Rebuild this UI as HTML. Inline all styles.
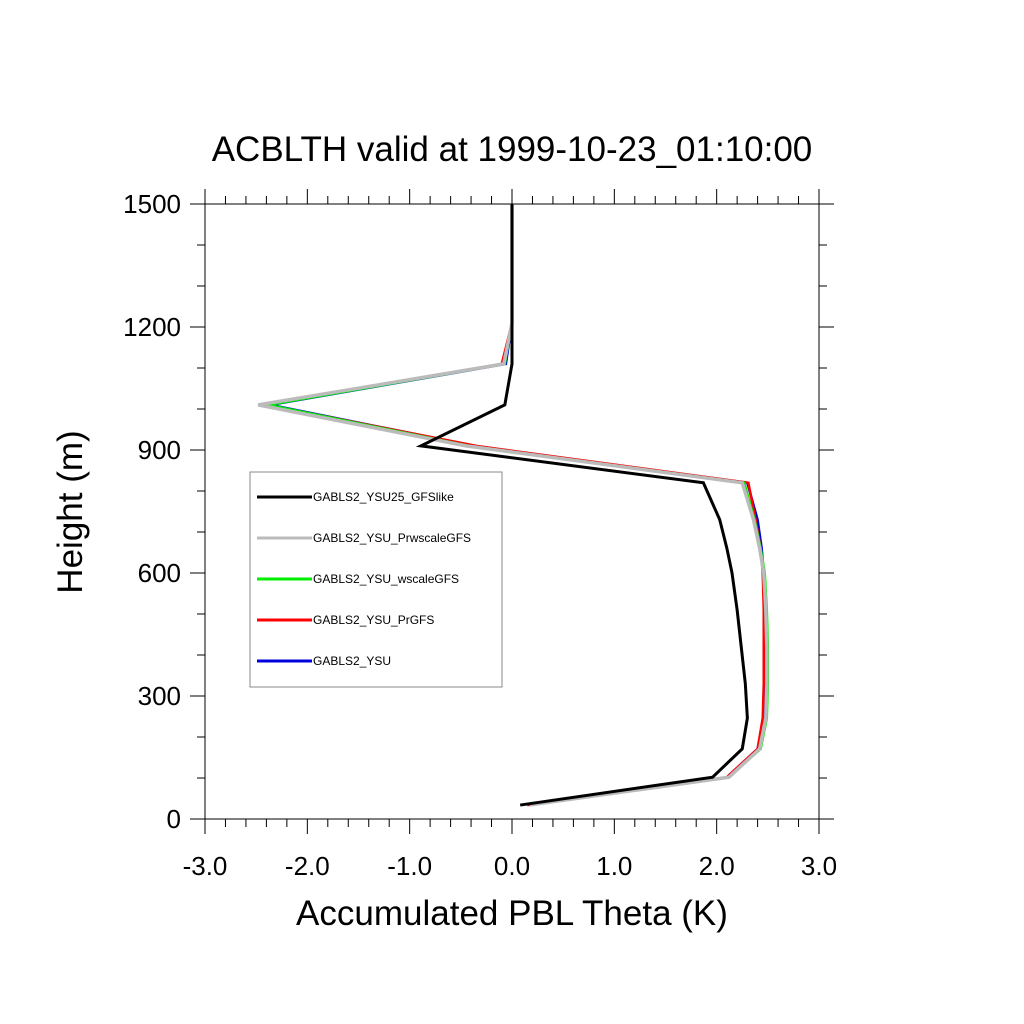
<!DOCTYPE html>
<html><head><meta charset="utf-8"><style>body{margin:0;background:#fff}svg{display:block}text{font-family:"Liberation Sans",sans-serif}</style></head>
<body>
<svg id="chart" width="1024" height="1024" xmlns="http://www.w3.org/2000/svg">
<rect width="1024" height="1024" fill="#fff"/>
<text x="512" y="161" font-size="35" text-anchor="middle">ACBLTH valid at 1999-10-23_01:10:00</text>
<text x="512" y="925" font-size="35" text-anchor="middle">Accumulated PBL Theta (K)</text>
<text transform="translate(82,512) rotate(-90)" font-size="35" text-anchor="middle">Height (m)</text>
<g id="axes"></g>
<g id="series"></g>
<g id="legend"></g>
</svg>
<script>
const heights=[34,102,171,246,330,420,510,600,660,730,820,910,1010,1110,1210,1500];
const blackVals=[0.08,1.96,2.25,2.30,2.28,2.24,2.20,2.15,2.10,2.03,1.87,-0.89,-0.07,0.0,0.0,0.0];
const grayVals=[0.17,2.12,2.42,2.48,2.49,2.49,2.48,2.46,2.42,2.36,2.25,-0.45,-2.48,-0.08,0.0,0.0];
const greenVals=[0.17,2.12,2.43,2.49,2.50,2.50,2.49,2.47,2.43,2.37,2.27,-0.42,-2.38,-0.07,0.0,0.0];
const redVals=[0.15,2.10,2.40,2.45,2.46,2.46,2.46,2.45,2.43,2.38,2.31,-0.35,-2.40,-0.10,0.0,0.0];
const blueVals=[0.15,2.10,2.40,2.46,2.47,2.47,2.47,2.46,2.44,2.40,2.30,-0.37,-2.36,-0.06,0.0,0.0];
const xTicks=[-3,-2,-1,0,1,2,3];
const xTickLabels=["-3.0","-2.0","-1.0","0.0","1.0","2.0","3.0"];
const yTicks=[0,300,600,900,1200,1500];
const seriesNames=["GABLS2_YSU25_GFSlike","GABLS2_YSU_PrwscaleGFS","GABLS2_YSU_wscaleGFS","GABLS2_YSU_PrGFS","GABLS2_YSU"];
const NS="http://www.w3.org/2000/svg";
const L=205,R=819,T=204,B=819;
const xs=v=>L+(v+3)/6*(R-L);
const ys=v=>B-v/1500*(B-T);
function mk(tag,attrs,parent){const e=document.createElementNS(NS,tag);for(const k in attrs)e.setAttribute(k,attrs[k]);parent.appendChild(e);return e;}
const ax=document.getElementById('axes');
const frame=mk('rect',{x:L,y:T,width:R-L,height:B-T,fill:'none',stroke:'#000','stroke-width':1},ax);


for(let i=-30;i<=30;i+=2){const v=i/10;const maj=i%10===0;const len=maj?15:8;const x=xs(v);
 const t1=mk('line',{x1:x,y1:B,x2:x,y2:B+len,stroke:'#000'},ax);
 
 
 const t2=mk('line',{x1:x,y1:T,x2:x,y2:T-len,stroke:'#000'},ax);
 
 }
for(let v=0;v<=1500;v+=100){const maj=v%300===0;const len=maj?15:8;const y=ys(v);
 const t1=mk('line',{x1:L,y1:y,x2:L-len,y2:y,stroke:'#000'},ax);
 
 
 const t2=mk('line',{x1:R,y1:y,x2:R+len,y2:y,stroke:'#000'},ax);
 
 }
xTicks.forEach((v,i)=>{const t=mk('text',{x:xs(v),y:875,'font-size':26,'text-anchor':'middle'},ax);t.textContent=xTickLabels[i];
 
 });
yTicks.forEach(v=>{const t=mk('text',{x:181,y:ys(v)+9,'font-size':26,'text-anchor':'end'},ax);t.textContent=String(v);
 
 });
const sg=document.getElementById('series');
const order=[[blueVals,'#0000dd',2.5,'series-ysu'],[redVals,'#ff0000',2.5,'series-prgfs'],[greenVals,'#00ee00',2.5,'series-wscalegfs'],[grayVals,'#bbbbbb',3.5,'series-prwscalegfs'],[blackVals,'#000',3,'series-ysu25-gfslike']];
order.forEach(([vals,c,w,n])=>{const pts=vals.map((v,i)=>xs(v)+','+ys(heights[i])).join(' ');
 const p=mk('polyline',{points:pts,fill:'none',stroke:c,'stroke-width':w,'stroke-linejoin':'miter'},sg);
 
 });
const lg=document.getElementById('legend');
const box=mk('rect',{x:250,y:472,width:252,height:215,fill:'#fff',stroke:'#888'},lg);


const lc=['#000','#bbbbbb','#00ee00','#ff0000','#0000dd'];
seriesNames.forEach((n,i)=>{const y=497+i*41;
 const l=mk('line',{x1:257,y1:y,x2:312,y2:y,stroke:lc[i],'stroke-width':3},lg);
 
 
 const t=mk('text',{x:313,y:y+4,'font-size':12},lg);t.textContent=n;
 
 });
</script>
</body></html>
